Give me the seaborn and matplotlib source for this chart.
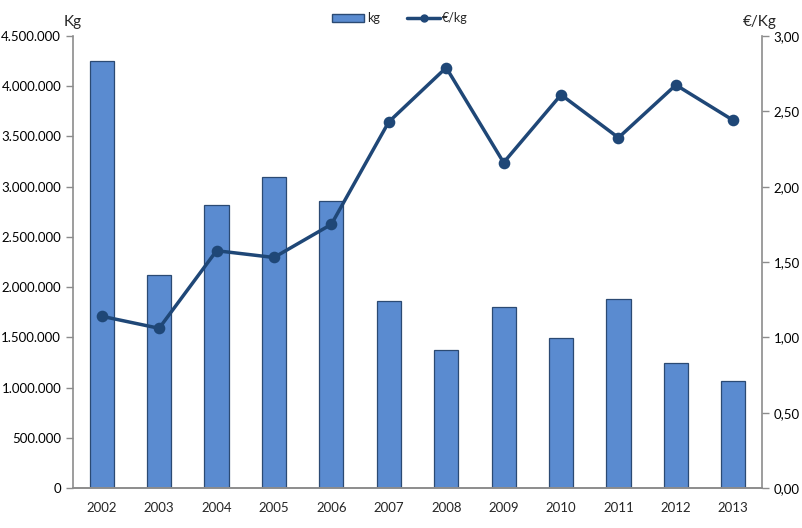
import pandas as pd
import numpy as np
import matplotlib.pyplot as plt
from matplotlib.ticker import FuncFormatter, MultipleLocator
from matplotlib.lines import Line2D
from matplotlib.patches import Patch
import seaborn as sns

years = ["2002", "2003", "2004", "2005", "2006", "2007",
         "2008", "2009", "2010", "2011", "2012", "2013"]
kg = [4250000, 2120000, 2820000, 3100000, 2860000, 1860000,
      1370000, 1805000, 1490000, 1880000, 1240000, 1070000]
eur_kg = [1.14, 1.06, 1.575, 1.53, 1.75, 2.43,
          2.79, 2.16, 2.61, 2.325, 2.675, 2.44]

df = pd.DataFrame({"year": years, "kg": kg, "eur": eur_kg})

sns.set_style("white")
plt.rcParams['font.family'] = ['Lato', 'DejaVu Sans']

bar_col = "#5a8bd0"
line_col = "#1f4777"
axis_col = "#8c8c8c"

fig = plt.figure(figsize=(8.02, 5.28), dpi=100)
ax = fig.add_axes([73/802, 40/528, 689/802, 452/528])

sns.barplot(data=df, x="year", y="kg", color=bar_col, width=0.42,
            edgecolor="#2b4a73", linewidth=0.9, saturation=1, ax=ax)

ax2 = ax.twinx()
sns.pointplot(data=df, x="year", y="eur", color=line_col, markers="o",
              linewidth=2.5, markersize=6.5, ax=ax2)

ax.set_xlim(-0.5, 11.5)
ax.set_ylim(0, 4500000)
ax2.set_ylim(0, 3.0)
ax.yaxis.set_major_locator(MultipleLocator(500000))
ax2.yaxis.set_major_locator(MultipleLocator(0.5))
ax.yaxis.set_major_formatter(FuncFormatter(lambda v, p: f"{int(v):,}".replace(",", ".")))
ax2.yaxis.set_major_formatter(FuncFormatter(lambda v, p: f"{v:.2f}".replace(".", ",")))

for a in (ax, ax2):
    a.set_xlabel("")
    a.set_ylabel("")
    a.spines["top"].set_visible(False)
    for s in ("left", "right", "bottom"):
        a.spines[s].set_color(axis_col)
        a.spines[s].set_linewidth(1.2)
    a.tick_params(axis="y", colors=axis_col, labelcolor="black", labelsize=9.5,
                  length=5, width=1)
ax.tick_params(axis="x", length=0, labelsize=9.5, pad=10)
ax.spines["right"].set_visible(False)
ax2.spines["left"].set_visible(False)

fig.text(73/802, 1 - 22/528, "Kg", ha="center", va="center", fontsize=11)
fig.text(760/802, 1 - 22/528, "€/Kg", ha="center", va="center", fontsize=11)

handles = [Patch(facecolor=bar_col, edgecolor="#2b4a73"),
           Line2D([0], [0], color=line_col, lw=2.5, marker="o", markersize=5)]
fig.legend(handles, ["kg", "€/kg"], loc="center", bbox_to_anchor=(400/802, 1 - 18/528),
           ncol=2, frameon=False, fontsize=9, handlelength=2.6, columnspacing=2.2,
           handletextpad=0.2, handleheight=0.6)

fig.savefig("out.png", dpi=100)
